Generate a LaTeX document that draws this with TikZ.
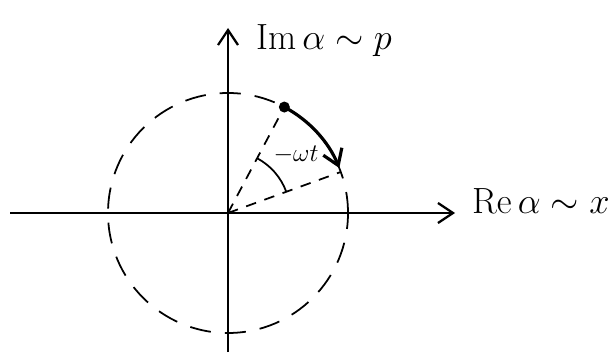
\documentclass[tikz,border=0pt]{standalone}
\usepackage{amsmath,amssymb}
\usetikzlibrary{calc,arrows.meta}
\tikzset{
  axis/.style={line width=1.3pt,-{Straight Barb[length=3mm,width=4mm]}},
  radial/.style={line width=1.0pt,dash pattern=on 6pt off 5pt},
  orbit/.style={line width=1.0pt,dash pattern=on 12pt off 8pt},
  motion/.style={line width=1.8pt,-{Straight Barb[length=3mm,width=4mm]}},
  anglemark/.style={line width=1.0pt},
  dot/.style={circle,fill=black,minimum size=2.2mm,inner sep=0},
  lab/.style={font=\fontsize{20}{24}\selectfont,inner sep=1pt},
}
\begin{document}
\begin{tikzpicture}
  \useasboundingbox (0,0) rectangle (12.16,7.22);
  % origin, axes ends
  \coordinate (O) at (4.56,2.96);
  \coordinate (xl) at (0.2,2.96);
  \coordinate (xr) at (9.1,2.96);
  \coordinate (yb) at (4.56,0.18);
  \coordinate (yt) at (4.56,6.66);
  \draw[axis] (xl) -- (xr);
  \draw[axis] (yb) -- (yt);
  % dashed circle of radius r
  \def\rad{2.4}
  \draw[orbit] (O) circle[radius=\rad];
  % start and end points of the motion
  \coordinate (P) at ($(O)+(62:\rad)$);
  \coordinate (Q) at ($(O)+(20:\rad)$);
  \draw[radial] (O) -- (P);
  \draw[radial] (O) -- (Q);
  \draw[motion] (P) arc[start angle=62,end angle=22,radius=\rad];
  \node[dot] (start) at (P) {};
  % angle swept
  \draw[anglemark] ($(O)+(62:1.24)$) arc[start angle=62,end angle=20,radius=1.24];
  \node[font=\Large] (phase) at (5.92,4.12) {$-\omega t$};
  % axis labels
  \node[lab,anchor=west] (imlab) at (5.08,6.4) {$\mathrm{Im}\,\alpha\sim p$};
  \node[lab,anchor=west] (relab) at (9.4,3.2) {$\mathrm{Re}\,\alpha\sim x$};
\end{tikzpicture}
\end{document}
